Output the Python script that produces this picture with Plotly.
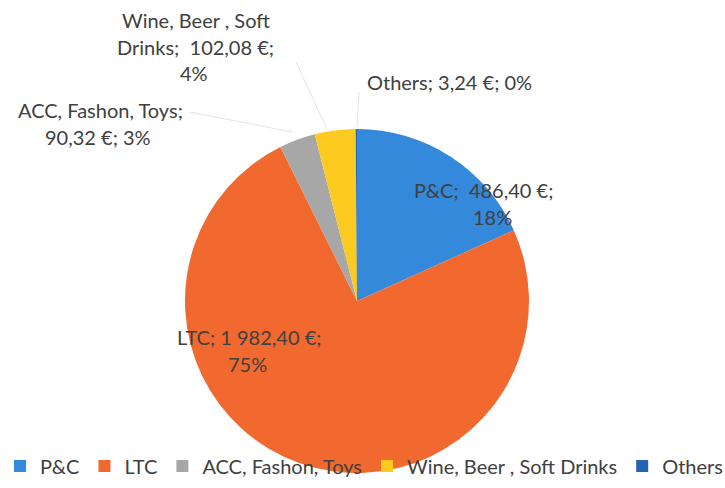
import plotly.graph_objects as go

W, H = 725, 488

# Category data
categories = ["P&C", "LTC", "ACC, Fashon, Toys", "Wine, Beer , Soft Drinks", "Others"]
amounts = [486.40, 1982.40, 90.32, 102.08, 3.24]
pct_labels = ["18%", "75%", "3%", "4%", "0%"]
colors = ["#3589DA", "#F2692F", "#A7A7A7", "#FDCB1F", "#2462B2"]

TEXT_COLOR = "#404040"
FONT = "Lato"


def eur(v):
    whole, frac = f"{v:.2f}".split(".")
    groups = []
    while len(whole) > 3:
        groups.insert(0, whole[-3:])
        whole = whole[:-3]
    groups.insert(0, whole)
    return " ".join(groups) + "," + frac + " €"


def px(x, y):
    return x / W, 1 - y / H


# Pie placed as a circle centred near (357, 301) px
cx, cy, r = 357, 301, 172
x0, _ = px(cx - r, 0)
x1, _ = px(cx + r, 0)
_, y0 = px(0, cy + r)
_, y1 = px(0, cy - r)

fig = go.Figure(
    go.Pie(
        labels=categories,
        values=amounts,
        sort=False,
        direction="clockwise",
        rotation=0,
        marker=dict(colors=colors, line=dict(width=0)),
        textinfo="none",
        hoverinfo="label+value+percent",
        domain=dict(x=[x0, x1], y=[y0, y1]),
    )
)

# Data labels: category; amount; share — each line placed separately
label_lines = {
    0: ([f"{categories[0]};  {eur(amounts[0])};", pct_labels[0]], [(483, 190), (492, 217)]),
    1: ([f"{categories[1]}; {eur(amounts[1])};", pct_labels[1]], [(249, 337), (247, 364)]),
    2: (["ACC, Fashon, Toys;", f"{eur(amounts[2])}; {pct_labels[2]}"], [(100, 110), (98, 137)]),
    3: (["Wine, Beer , Soft", f"Drinks;  {eur(amounts[3])};", pct_labels[3]], [(196, 20), (196, 47), (194, 73)]),
    4: ([f"{categories[4]}; {eur(amounts[4])}; {pct_labels[4]}"], [(449, 82)]),
}

annotations = []
for i, (lines, pos) in label_lines.items():
    for text, (lx, ly) in zip(lines, pos):
        ax, ay = px(lx, ly)
        annotations.append(
            dict(
                x=ax, y=ay, xref="paper", yref="paper",
                text=text, showarrow=False,
                xanchor="center", yanchor="middle",
                font=dict(family=FONT, size=20, color=TEXT_COLOR),
            )
        )

# Faint leader lines for the labels outside the pie
leaders = [
    [(190, 112), (292, 132)],
    [(296, 62), (326, 127)],
    [(359, 92), (357, 127)],
]
shapes = []
for (ax0, ay0), (ax1, ay1) in leaders:
    p0 = px(ax0, ay0)
    p1 = px(ax1, ay1)
    shapes.append(
        dict(
            type="line", xref="paper", yref="paper",
            x0=p0[0], y0=p0[1], x1=p1[0], y1=p1[1],
            line=dict(color="#E3E3E3", width=1),
        )
    )

fig.update_layout(
    width=W,
    height=H,
    margin=dict(l=0, r=0, t=0, b=0),
    paper_bgcolor="white",
    plot_bgcolor="white",
    showlegend=True,
    legend=dict(
        orientation="h",
        x=0.005,
        xanchor="left",
        y=1 - 466 / H,
        yanchor="middle",
        font=dict(family=FONT, size=20, color=TEXT_COLOR),
        itemclick=False,
        bgcolor="rgba(0,0,0,0)",
    ),
    annotations=annotations,
    shapes=shapes,
)

fig.write_html("out.html")
